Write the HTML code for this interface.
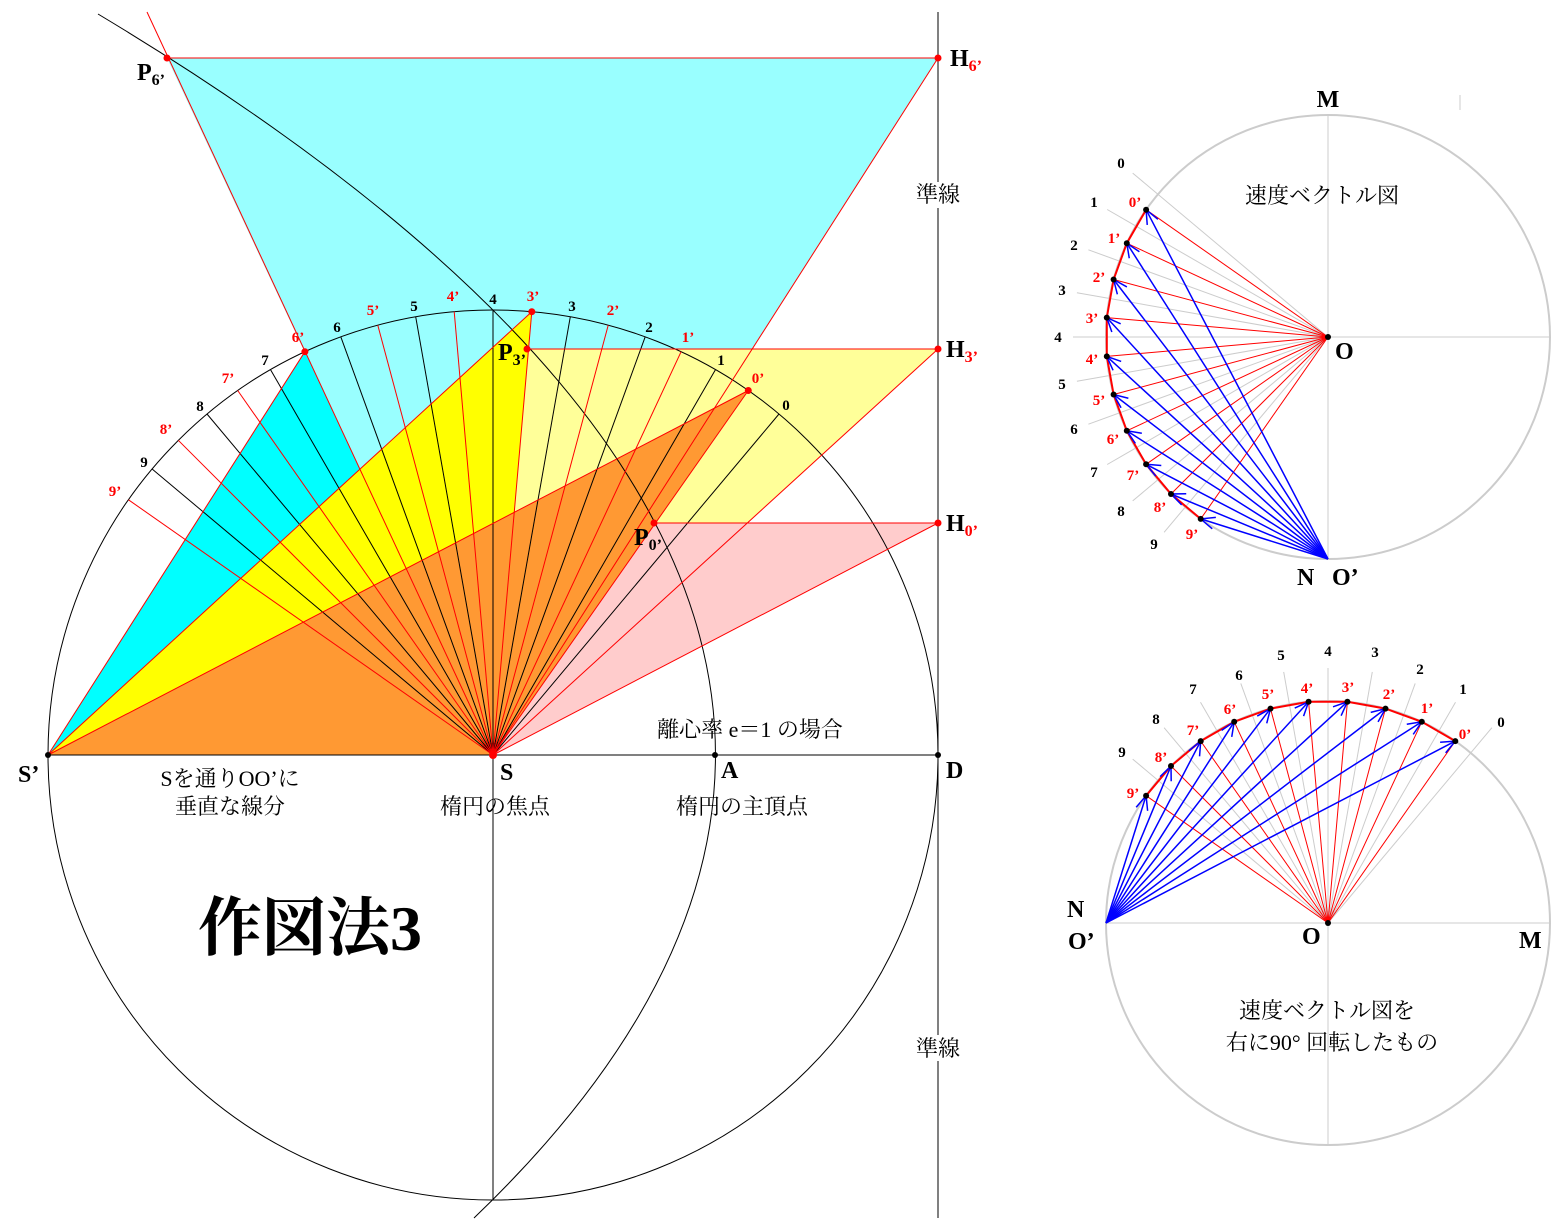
<!DOCTYPE html>
<html><head><meta charset="utf-8"><style>
html,body{margin:0;padding:0;background:#fff}
svg{display:block}
text{font-family:"Liberation Serif","Noto Serif CJK JP",serif}
.n{font-size:15px;font-weight:bold;text-anchor:middle}
.r{fill:#f00}
.L{font-size:24px;font-weight:bold}
.J{font-size:22px;font-family:"Liberation Serif","Noto Serif CJK JP",serif}
</style></head><body>
<svg width="1566" height="1231" viewBox="0 0 1566 1231" xmlns="http://www.w3.org/2000/svg">
<defs>
<marker id="ah" markerUnits="userSpaceOnUse" markerWidth="20" markerHeight="20" refX="16" refY="8" orient="auto">
<path d="M2,2 L16,8 L2,14" fill="none" stroke="#00f" stroke-width="1.5"/>
</marker>
</defs>
<polygon points="167,58 938,58 493,755" fill="#99ffff"/>
<polygon points="527,349 938,349 493,755" fill="#ffff99"/>
<polygon points="654,523 938,523 493,755" fill="#ffcccc"/>
<polygon points="48,755 304.9,351.7 493,755" fill="#00ffff"/>
<polygon points="48,755 531.8,311.7 493,755" fill="#ffff00"/>
<polygon points="48,755 748.3,390.5 493,755" fill="#ff9933"/>
<g stroke="#000" stroke-width="1" fill="none">
<circle cx="493" cy="755" r="445"/>
<path d="M98,14 Q1101.6,616 474,1218"/>
<line x1="938" y1="12" x2="938" y2="1218"/>
<line x1="48" y1="755" x2="938" y2="755"/>
<line x1="493" y1="755" x2="493" y2="1200"/>
<line x1="493" y1="755" x2="779" y2="414"/>
<line x1="493" y1="755" x2="715.5" y2="369.6"/>
<line x1="493" y1="755" x2="645.2" y2="336.8"/>
<line x1="493" y1="755" x2="570.3" y2="316.8"/>
<line x1="493" y1="755" x2="493" y2="310"/>
<line x1="493" y1="755" x2="415.7" y2="316.8"/>
<line x1="493" y1="755" x2="340.8" y2="336.8"/>
<line x1="493" y1="755" x2="270.5" y2="369.6"/>
<line x1="493" y1="755" x2="207" y2="414"/>
<line x1="493" y1="755" x2="152.1" y2="469"/>
</g>
<g stroke="#f00" stroke-width="1" fill="none">
<line x1="493" y1="755" x2="748.3" y2="390.5"/>
<line x1="493" y1="755" x2="681.1" y2="351.7"/>
<line x1="493" y1="755" x2="608.2" y2="325.2"/>
<line x1="493" y1="755" x2="531.8" y2="311.7"/>
<line x1="493" y1="755" x2="454.2" y2="311.7"/>
<line x1="493" y1="755" x2="377.8" y2="325.2"/>
<line x1="493" y1="755" x2="147" y2="12"/>
<line x1="493" y1="755" x2="237.7" y2="390.5"/>
<line x1="493" y1="755" x2="178.3" y2="440.3"/>
<line x1="493" y1="755" x2="128.5" y2="499.8"/>
<line x1="167" y1="58" x2="938" y2="58"/>
<line x1="493" y1="755" x2="938" y2="58"/>
<line x1="527" y1="349" x2="938" y2="349"/>
<line x1="493" y1="755" x2="938" y2="349"/>
<line x1="654" y1="523" x2="938" y2="523"/>
<line x1="493" y1="755" x2="938" y2="523"/>
<line x1="48" y1="755" x2="304.9" y2="351.7"/>
<line x1="48" y1="755" x2="531.8" y2="311.7"/>
<line x1="48" y1="755" x2="748.3" y2="390.5"/>
</g>
<g fill="#f00">
<circle cx="167" cy="58" r="3.5"/><circle cx="938" cy="58" r="3.5"/>
<circle cx="527" cy="349" r="3.5"/><circle cx="938" cy="349" r="3.5"/>
<circle cx="654" cy="523" r="3.5"/><circle cx="938" cy="523" r="3.5"/>
<circle cx="748.3" cy="390.5" r="3.5"/><circle cx="531.8" cy="311.7" r="3.5"/><circle cx="304.9" cy="351.7" r="3.5"/>
<circle cx="493" cy="755" r="4"/>
</g>
<g fill="#000"><circle cx="48" cy="755" r="3"/><circle cx="715" cy="755" r="3"/><circle cx="938" cy="755" r="3"/></g>
<g class="n">
<text x="786" y="410">0</text><text x="721" y="365">1</text><text x="649" y="332">2</text><text x="572" y="311">3</text><text x="493" y="304">4</text>
<text x="414" y="311">5</text><text x="337" y="332">6</text><text x="265" y="365">7</text><text x="200" y="411">8</text><text x="144" y="467">9</text>
</g>
<g class="n r">
<text x="758" y="383">0’</text><text x="688" y="342">1’</text><text x="613" y="315">2’</text><text x="533" y="301">3’</text><text x="453" y="301">4’</text>
<text x="373" y="315">5’</text><text x="298" y="342">6’</text><text x="228" y="383">7’</text><text x="166" y="434">8’</text><text x="115" y="496">9’</text>
</g>
<text x="137" y="80" class="L">P<tspan font-size="16" dy="5">6’</tspan></text>
<text x="950" y="66" class="L">H<tspan font-size="16" dy="5" fill="#f00">6’</tspan></text>
<text x="498" y="360" class="L">P<tspan font-size="16" dy="5">3’</tspan></text>
<text x="946" y="357" class="L">H<tspan font-size="16" dy="5" fill="#f00">3’</tspan></text>
<text x="634" y="545" class="L">P<tspan font-size="16" dy="5">0’</tspan></text>
<text x="946" y="531" class="L">H<tspan font-size="16" dy="5" fill="#f00">0’</tspan></text>
<rect x="912" y="182" width="52" height="26" fill="#fff"/>
<text x="938" y="202" class="J" text-anchor="middle">準線</text>
<rect x="912" y="1035" width="52" height="26" fill="#fff"/>
<text x="938" y="1056" class="J" text-anchor="middle">準線</text>
<text x="750" y="737" class="J" text-anchor="middle">離心率 e＝1 の場合</text>
<text x="18" y="782" class="L">S’</text>
<text x="500" y="780" class="L">S</text>
<text x="721" y="778" class="L">A</text>
<text x="946" y="778" class="L">D</text>
<text x="230" y="786" class="J" text-anchor="middle">Sを通りOO’に</text>
<text x="230" y="814" class="J" text-anchor="middle">垂直な線分</text>
<text x="495" y="814" class="J" text-anchor="middle">楕円の焦点</text>
<text x="742" y="814" class="J" text-anchor="middle">楕円の主頂点</text>
<text x="310" y="950" font-size="64" font-weight="bold" text-anchor="middle" font-family="'Liberation Serif','Noto Serif CJK JP',serif">作図法3</text>

<g stroke="#ccc" stroke-width="1" fill="none">
<circle cx="1328" cy="337" r="222" stroke-width="2"/>
<line x1="1328" y1="115" x2="1328" y2="559"/>
<line x1="1328" y1="337" x2="1550" y2="337"/>
<line x1="1328" y1="337" x2="1132.7" y2="173.1"/>
<line x1="1328" y1="337" x2="1107.2" y2="209.5"/>
<line x1="1328" y1="337" x2="1088.4" y2="249.8"/>
<line x1="1328" y1="337" x2="1076.9" y2="292.7"/>
<line x1="1328" y1="337" x2="1073" y2="337"/>
<line x1="1328" y1="337" x2="1076.9" y2="381.3"/>
<line x1="1328" y1="337" x2="1088.4" y2="424.2"/>
<line x1="1328" y1="337" x2="1107.2" y2="464.5"/>
<line x1="1328" y1="337" x2="1132.7" y2="500.9"/>
<line x1="1328" y1="337" x2="1164.1" y2="532.3"/>
<line x1="1460" y1="95" x2="1460" y2="110"/>
</g>
<g stroke="#f00" stroke-width="1">
<line x1="1328" y1="337" x2="1146.1" y2="209.7"/><line x1="1328" y1="337" x2="1126.8" y2="243.2"/>
<line x1="1328" y1="337" x2="1113.6" y2="279.5"/><line x1="1328" y1="337" x2="1106.8" y2="317.6"/>
<line x1="1328" y1="337" x2="1106.8" y2="356.4"/><line x1="1328" y1="337" x2="1113.6" y2="394.5"/>
<line x1="1328" y1="337" x2="1126.8" y2="430.8"/><line x1="1328" y1="337" x2="1146.1" y2="464.3"/>
<line x1="1328" y1="337" x2="1171" y2="494"/><line x1="1328" y1="337" x2="1200.7" y2="518.9"/>
</g>
<polyline points="1146.1,209.7 1126.8,243.2 1113.6,279.5 1106.8,317.6 1106.8,356.4 1113.6,394.5 1126.8,430.8 1146.1,464.3 1171,494 1200.7,518.9" fill="none" stroke="#f00" stroke-width="2"/>
<g stroke="#00f" stroke-width="1.5" marker-end="url(#ah)">
<line x1="1328" y1="559" x2="1146.1" y2="209.7"/><line x1="1328" y1="559" x2="1126.8" y2="243.2"/>
<line x1="1328" y1="559" x2="1113.6" y2="279.5"/><line x1="1328" y1="559" x2="1106.8" y2="317.6"/>
<line x1="1328" y1="559" x2="1106.8" y2="356.4"/><line x1="1328" y1="559" x2="1113.6" y2="394.5"/>
<line x1="1328" y1="559" x2="1126.8" y2="430.8"/><line x1="1328" y1="559" x2="1146.1" y2="464.3"/>
<line x1="1328" y1="559" x2="1171" y2="494"/><line x1="1328" y1="559" x2="1200.7" y2="518.9"/>
</g>
<g fill="#000">
<circle cx="1146.1" cy="209.7" r="3"/><circle cx="1126.8" cy="243.2" r="3"/><circle cx="1113.6" cy="279.5" r="3"/><circle cx="1106.8" cy="317.6" r="3"/><circle cx="1106.8" cy="356.4" r="3"/>
<circle cx="1113.6" cy="394.5" r="3"/><circle cx="1126.8" cy="430.8" r="3"/><circle cx="1146.1" cy="464.3" r="3"/><circle cx="1171" cy="494" r="3"/><circle cx="1200.7" cy="518.9" r="3"/>
<circle cx="1328" cy="337" r="3"/>
</g>
<g class="n" font-weight="normal">
<text x="1121" y="168">0</text><text x="1094" y="207">1</text><text x="1074" y="250">2</text><text x="1062" y="295">3</text><text x="1058" y="342">4</text>
<text x="1062" y="389">5</text><text x="1074" y="434">6</text><text x="1094" y="477">7</text><text x="1121" y="516">8</text><text x="1154" y="549">9</text>
</g>
<g class="n r">
<text x="1135" y="207">0’</text><text x="1114" y="243">1’</text><text x="1099" y="282">2’</text><text x="1092" y="323">3’</text><text x="1092" y="364">4’</text>
<text x="1099" y="405">5’</text><text x="1113" y="444">6’</text><text x="1133" y="480">7’</text><text x="1160" y="512">8’</text><text x="1192" y="539">9’</text>
</g>
<text x="1328" y="107" class="L" text-anchor="middle">M</text>
<text x="1322" y="203" class="J" text-anchor="middle">速度ベクトル図</text>
<text x="1335" y="359" class="L">O</text>
<text x="1297" y="585" class="L">N</text>
<text x="1332" y="585" class="L">O’</text>

<g stroke="#ccc" stroke-width="1" fill="none">
<circle cx="1328" cy="923" r="222" stroke-width="2"/>
<line x1="1328" y1="923" x2="1328" y2="1145"/>
<line x1="1106" y1="923" x2="1550" y2="923"/>
<line x1="1328" y1="923" x2="1491.9" y2="727.7"/>
<line x1="1328" y1="923" x2="1455.5" y2="702.2"/>
<line x1="1328" y1="923" x2="1415.2" y2="683.4"/>
<line x1="1328" y1="923" x2="1372.3" y2="671.9"/>
<line x1="1328" y1="923" x2="1328" y2="668"/>
<line x1="1328" y1="923" x2="1283.7" y2="671.9"/>
<line x1="1328" y1="923" x2="1240.8" y2="683.4"/>
<line x1="1328" y1="923" x2="1200.5" y2="702.2"/>
<line x1="1328" y1="923" x2="1164.1" y2="727.7"/>
<line x1="1328" y1="923" x2="1132.7" y2="759.1"/>
</g>
<g stroke="#f00" stroke-width="1">
<line x1="1328" y1="923" x2="1455.3" y2="741.1"/><line x1="1328" y1="923" x2="1421.8" y2="721.8"/>
<line x1="1328" y1="923" x2="1385.5" y2="708.6"/><line x1="1328" y1="923" x2="1347.4" y2="701.8"/>
<line x1="1328" y1="923" x2="1308.6" y2="701.8"/><line x1="1328" y1="923" x2="1270.5" y2="708.6"/>
<line x1="1328" y1="923" x2="1234.2" y2="721.8"/><line x1="1328" y1="923" x2="1200.7" y2="741.1"/>
<line x1="1328" y1="923" x2="1171" y2="766"/><line x1="1328" y1="923" x2="1146.1" y2="795.7"/>
</g>
<polyline points="1455.3,741.1 1421.8,721.8 1385.5,708.6 1347.4,701.8 1308.6,701.8 1270.5,708.6 1234.2,721.8 1200.7,741.1 1171,766 1146.1,795.7" fill="none" stroke="#f00" stroke-width="2"/>
<g stroke="#00f" stroke-width="1.5" marker-end="url(#ah)">
<line x1="1106" y1="923" x2="1455.3" y2="741.1"/><line x1="1106" y1="923" x2="1421.8" y2="721.8"/>
<line x1="1106" y1="923" x2="1385.5" y2="708.6"/><line x1="1106" y1="923" x2="1347.4" y2="701.8"/>
<line x1="1106" y1="923" x2="1308.6" y2="701.8"/><line x1="1106" y1="923" x2="1270.5" y2="708.6"/>
<line x1="1106" y1="923" x2="1234.2" y2="721.8"/><line x1="1106" y1="923" x2="1200.7" y2="741.1"/>
<line x1="1106" y1="923" x2="1171" y2="766"/><line x1="1106" y1="923" x2="1146.1" y2="795.7"/>
</g>
<g fill="#000">
<circle cx="1455.3" cy="741.1" r="3"/><circle cx="1421.8" cy="721.8" r="3"/><circle cx="1385.5" cy="708.6" r="3"/><circle cx="1347.4" cy="701.8" r="3"/><circle cx="1308.6" cy="701.8" r="3"/>
<circle cx="1270.5" cy="708.6" r="3"/><circle cx="1234.2" cy="721.8" r="3"/><circle cx="1200.7" cy="741.1" r="3"/><circle cx="1171" cy="766" r="3"/><circle cx="1146.1" cy="795.7" r="3"/>
<circle cx="1328" cy="923" r="3"/>
</g>
<g class="n" font-weight="normal">
<text x="1501" y="727">0</text><text x="1463" y="694">1</text><text x="1420" y="674">2</text><text x="1375" y="657">3</text><text x="1328" y="656">4</text>
<text x="1281" y="660">5</text><text x="1239" y="680">6</text><text x="1193" y="694">7</text><text x="1156" y="724">8</text><text x="1122" y="757">9</text>
</g>
<g class="n r">
<text x="1465" y="739">0’</text><text x="1427" y="713">1’</text><text x="1389" y="699">2’</text><text x="1348" y="692">3’</text><text x="1307" y="693">4’</text>
<text x="1268" y="699">5’</text><text x="1230" y="714">6’</text><text x="1193" y="735">7’</text><text x="1161" y="762">8’</text><text x="1133" y="798">9’</text>
</g>
<text x="1067" y="917" class="L">N</text>
<text x="1068" y="949" class="L">O’</text>
<text x="1302" y="944" class="L">O</text>
<text x="1519" y="948" class="L">M</text>
<text x="1327" y="1018" class="J" text-anchor="middle">速度ベクトル図を</text>
<text x="1332" y="1050" class="J" text-anchor="middle">右に90° 回転したもの</text>
</svg>
</body></html>
